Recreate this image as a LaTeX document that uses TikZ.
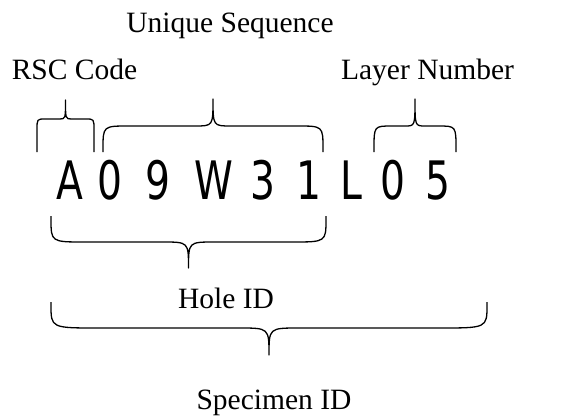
\documentclass[tikz,border=0pt]{standalone}
\usepackage{fontspec}
\setmainfont{Liberation Serif}
\newfontfamily\codefont[FakeStretch=0.74]{DejaVu Sans}
% #1 xl, #2 xr, #3 y of free ends, #4 y where end curve starts, #5 y of bar, #6 x of tip, #7 y of tip, #8 end curve width, #9 cusp half width
\newcommand\brc[9]{%
  \draw[bracestyle] (#1,#3) -- (#1,#4) .. controls (#1,#5) and (#1,#5) .. ({#1+#8},#5)
    -- ({#6-#9},#5) .. controls (#6,#5) and (#6,#5) .. (#6,#7)
    .. controls (#6,#5) and (#6,#5) .. ({#6+#9},#5)
    -- ({#2-#8},#5) .. controls (#2,#5) and (#2,#5) .. (#2,#4) -- (#2,#3);}
\begin{document}
\begin{tikzpicture}[x=1pt,y=-1pt,
  bracestyle/.style={line width=1.3pt, line join=round},
  lbl/.style={inner sep=0pt, anchor=base, font=\fontsize{29.5}{32}\selectfont},
  code/.style={inner sep=0pt, anchor=base, font=\codefont\fontsize{53}{58}\selectfont}]
\useasboundingbox (0,0) rectangle (561,417);
% labels
\node[lbl] (uniq) at (230,33) {Unique Sequence};
\node[lbl] (rsc) at (74.5,80) {RSC Code};
\node[lbl] (layer) at (427.5,80) {Layer Number};
\node[lbl] (hole) at (226,308) {Hole ID};
\node[lbl] (spec) at (274,409) {Specimen ID};
% code characters
\node[code] (c1) at (70,199) {A};
\node[code] (c2) at (110,199) {0};
\node[code] (c3) at (158,199) {9};
\node[code] (c4) at (214,199) {W};
\node[code] (c5) at (263,199) {3};
\node[code] (c6) at (309,199) {1};
\node[code] (c7) at (351,199) {L};
\node[code] (c8) at (393,199) {0};
\node[code] (c9) at (438,199) {5};
% braces
\brc{37}{94}{152}{130}{119}{65.5}{100}{8}{6}
\brc{103}{323}{152}{149}{126}{213}{99}{26}{18}
\brc{374}{456}{152}{149}{126}{415}{99}{18}{10}
\brc{51}{326}{216}{219}{242}{188.5}{268}{34}{26}
\brc{51}{487}{302}{305}{328}{269}{355}{48}{30}
\end{tikzpicture}
\end{document}
